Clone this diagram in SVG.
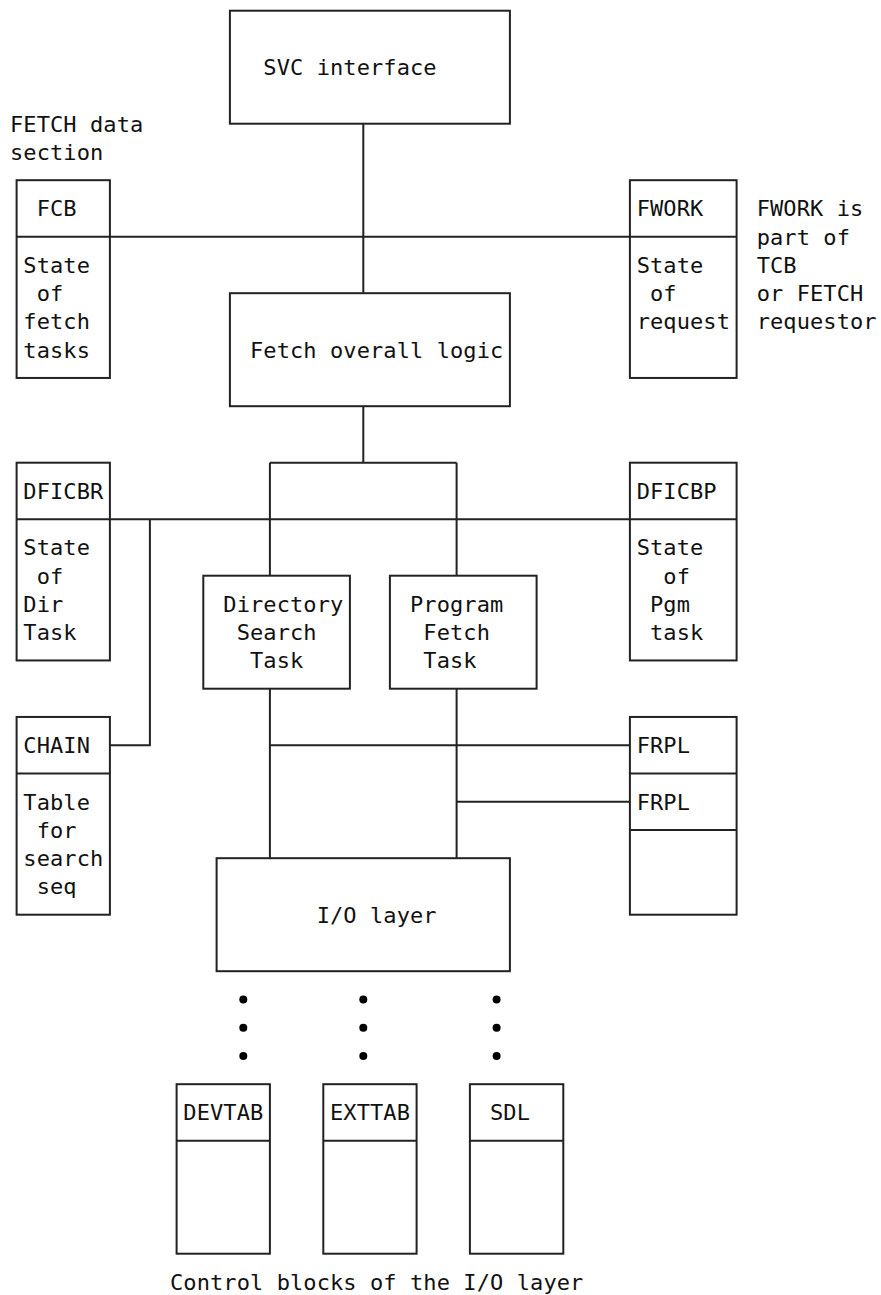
<svg xmlns="http://www.w3.org/2000/svg" width="881" height="1295" viewBox="0 0 881 1295">
<style>
  rect, line, path { fill: none; stroke: #222; stroke-width: 2; }
  rect { fill: #fff; }
  text { font-family: "DejaVu Sans Mono", "Liberation Mono", monospace; font-size: 22px; fill: #111; letter-spacing: 0.09px; }
  circle { fill: #000; stroke: none; }
</style>
<rect x="0" y="0" width="881" height="1295" style="fill:#fff;stroke:none"/>
<g id="connectors">
  <line x1="363.3" y1="123.7" x2="363.3" y2="293.2"/>
  <line x1="109.9" y1="236.7" x2="629.9" y2="236.7"/>
  <line x1="363.3" y1="406.2" x2="363.3" y2="462.7"/>
  <line x1="269.9" y1="462.7" x2="456.6" y2="462.7"/>
  <line x1="269.9" y1="462.7" x2="269.9" y2="575.7"/>
  <line x1="456.6" y1="462.7" x2="456.6" y2="575.7"/>
  <line x1="109.9" y1="519.2" x2="629.9" y2="519.2"/>
  <path d="M149.9 519.2 V745.2 H109.9"/>
  <line x1="269.9" y1="688.7" x2="269.9" y2="858.2"/>
  <line x1="456.6" y1="688.7" x2="456.6" y2="858.2"/>
  <line x1="269.9" y1="745.2" x2="629.9" y2="745.2"/>
  <line x1="456.6" y1="801.7" x2="629.9" y2="801.7"/>
</g>
<g id="svc">
  <rect x="229.9" y="10.7" width="280" height="113"/>
  <text x="263.3" y="75.2">SVC interface</text>
</g>
<g id="fetch-data-note">
  <text x="10" y="131.7">FETCH data</text>
  <text x="10" y="160">section</text>
</g>
<g id="fcb">
  <rect x="16.6" y="180.2" width="93.3" height="197.75"/>
  <line x1="16.6" y1="236.7" x2="109.9" y2="236.7"/>
  <text x="36.7" y="216.45">FCB</text>
  <text x="23.3" y="272.95">State</text>
  <text x="36.7" y="301.2">of</text>
  <text x="23.3" y="329.45">fetch</text>
  <text x="23.3" y="357.7">tasks</text>
</g>
<g id="fwork">
  <rect x="629.9" y="180.2" width="106.7" height="197.75"/>
  <line x1="629.9" y1="236.7" x2="736.6" y2="236.7"/>
  <text x="636.7" y="216.45">FWORK</text>
  <text x="636.7" y="272.95">State</text>
  <text x="650" y="301.2">of</text>
  <text x="636.7" y="329.45">request</text>
</g>
<g id="fwork-note">
  <text x="756.7" y="216.45">FWORK is</text>
  <text x="756.7" y="244.7">part of</text>
  <text x="756.7" y="272.95">TCB</text>
  <text x="756.7" y="301.2">or FETCH</text>
  <text x="756.7" y="329.45">requestor</text>
</g>
<g id="fetch-logic">
  <rect x="229.9" y="293.2" width="280" height="113"/>
  <text x="250" y="357.7">Fetch overall logic</text>
</g>
<g id="dficbr">
  <rect x="16.6" y="462.7" width="93.3" height="197.75"/>
  <line x1="16.6" y1="519.2" x2="109.9" y2="519.2"/>
  <text x="23.3" y="498.95">DFICBR</text>
  <text x="23.3" y="555.45">State</text>
  <text x="36.7" y="583.7">of</text>
  <text x="23.3" y="611.95">Dir</text>
  <text x="23.3" y="640.2">Task</text>
</g>
<g id="dficbp">
  <rect x="629.9" y="462.7" width="106.7" height="197.75"/>
  <line x1="629.9" y1="519.2" x2="736.6" y2="519.2"/>
  <text x="636.7" y="498.95">DFICBP</text>
  <text x="636.7" y="555.45">State</text>
  <text x="663.3" y="583.7">of</text>
  <text x="650" y="611.95">Pgm</text>
  <text x="650" y="640.2">task</text>
</g>
<g id="directory">
  <rect x="203.3" y="575.7" width="146.6" height="113"/>
  <text x="223.3" y="611.95">Directory</text>
  <text x="236.7" y="640.2">Search</text>
  <text x="250" y="668.45">Task</text>
</g>
<g id="program">
  <rect x="389.9" y="575.7" width="146.7" height="113"/>
  <text x="410" y="611.95">Program</text>
  <text x="423.3" y="640.2">Fetch</text>
  <text x="423.3" y="668.45">Task</text>
</g>
<g id="chain">
  <rect x="16.6" y="716.95" width="93.3" height="197.75"/>
  <line x1="16.6" y1="773.45" x2="109.9" y2="773.45"/>
  <text x="23.3" y="753.2">CHAIN</text>
  <text x="23.3" y="809.7">Table</text>
  <text x="36.7" y="837.95">for</text>
  <text x="23.3" y="866.2">search</text>
  <text x="36.7" y="894.45">seq</text>
</g>
<g id="frpl">
  <rect x="629.9" y="716.95" width="106.7" height="197.75"/>
  <line x1="629.9" y1="773.45" x2="736.6" y2="773.45"/>
  <line x1="629.9" y1="829.95" x2="736.6" y2="829.95"/>
  <text x="636.7" y="753.2">FRPL</text>
  <text x="636.7" y="809.7">FRPL</text>
</g>
<g id="io-layer">
  <rect x="216.6" y="858.2" width="293.3" height="113"/>
  <text x="316.7" y="922.7">I/O layer</text>
</g>
<g id="dots">
  <circle cx="243.3" cy="999.45" r="4"/>
  <circle cx="243.3" cy="1027.7" r="4"/>
  <circle cx="243.3" cy="1055.95" r="4"/>
  <circle cx="363.3" cy="999.45" r="4"/>
  <circle cx="363.3" cy="1027.7" r="4"/>
  <circle cx="363.3" cy="1055.95" r="4"/>
  <circle cx="496.6" cy="999.45" r="4"/>
  <circle cx="496.6" cy="1027.7" r="4"/>
  <circle cx="496.6" cy="1055.95" r="4"/>
</g>
<g id="devtab">
  <rect x="176.6" y="1084.2" width="93.3" height="169.5"/>
  <line x1="176.6" y1="1140.7" x2="269.9" y2="1140.7"/>
  <text x="183.3" y="1120.45">DEVTAB</text>
</g>
<g id="exttab">
  <rect x="323.3" y="1084.2" width="93.3" height="169.5"/>
  <line x1="323.3" y1="1140.7" x2="416.6" y2="1140.7"/>
  <text x="330" y="1120.45">EXTTAB</text>
</g>
<g id="sdl">
  <rect x="469.9" y="1084.2" width="93.4" height="169.5"/>
  <line x1="469.9" y1="1140.7" x2="563.3" y2="1140.7"/>
  <text x="490" y="1120.45">SDL</text>
</g>
<g id="caption">
  <text x="170" y="1289.95">Control blocks of the I/O layer</text>
</g>
</svg>
